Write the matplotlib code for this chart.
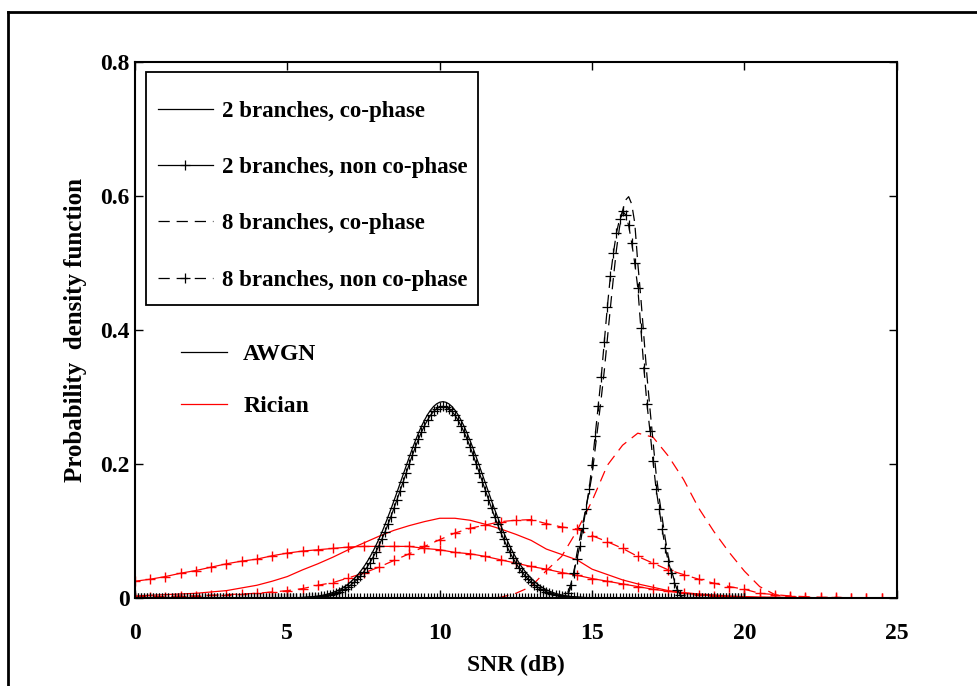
import numpy as np
import matplotlib.pyplot as plt
from matplotlib.lines import Line2D
from matplotlib.patches import Rectangle

plt.rcParams['font.family'] = ['Liberation Serif', 'DejaVu Serif']
plt.rcParams['font.weight'] = 'bold'

# AWGN curves, 0.1 dB grid from 0 to 20 dB
snr_fine = np.round(np.arange(0, 20.01, 0.1), 1)

# 2 branches, co-phase (peak ~0.293 at 10.1 dB)
awgn_2_co = [0.0] * 50 + [
    0.0002, 0.0003, 0.0004, 0.0005, 0.0006, 0.0008, 0.0011, 0.0014, 0.0018, 0.0023,
    0.0029, 0.0036, 0.0045, 0.0056, 0.0069, 0.0084, 0.0102, 0.0123, 0.0148, 0.0177,
    0.0210, 0.0248, 0.0292, 0.0341, 0.0397, 0.0459, 0.0527, 0.0603, 0.0686, 0.0777,
    0.0874, 0.0978, 0.1088, 0.1205, 0.1326, 0.1452, 0.1580, 0.1711, 0.1843, 0.1974,
    0.2102, 0.2227, 0.2346, 0.2458, 0.2562, 0.2654, 0.2736, 0.2804, 0.2859, 0.2898,
    0.2922, 0.2930, 0.2922,
    0.2898, 0.2859, 0.2804, 0.2736, 0.2654, 0.2562, 0.2458, 0.2346, 0.2227, 0.2102,
    0.1974, 0.1843, 0.1711, 0.1580, 0.1452, 0.1326, 0.1205, 0.1088, 0.0978, 0.0874,
    0.0777, 0.0686, 0.0603, 0.0527, 0.0459, 0.0397, 0.0341, 0.0292, 0.0248, 0.0210,
    0.0177, 0.0148, 0.0123, 0.0102, 0.0084, 0.0069, 0.0056, 0.0045, 0.0036, 0.0029,
    0.0023, 0.0018, 0.0014, 0.0011, 0.0008, 0.0006, 0.0005, 0.0004,
] + [0.0] * 50

# 2 branches, non co-phase
awgn_2_nonco = [0.0] * 51 + [
    0.0001, 0.0002, 0.0003, 0.0004, 0.0005, 0.0007, 0.0009, 0.0012, 0.0015, 0.0019,
    0.0025, 0.0032, 0.0040, 0.0050, 0.0062, 0.0076, 0.0094, 0.0114, 0.0138, 0.0167,
    0.0200, 0.0238, 0.0281, 0.0331, 0.0387, 0.0450, 0.0520, 0.0598, 0.0683, 0.0776,
    0.0876, 0.0983, 0.1097, 0.1216, 0.1341, 0.1470, 0.1602, 0.1735, 0.1868, 0.1999,
    0.2128, 0.2251, 0.2367, 0.2474, 0.2571, 0.2656, 0.2728, 0.2785, 0.2826, 0.2852,
    0.2860,
    0.2852, 0.2826, 0.2785, 0.2728, 0.2656, 0.2571, 0.2474, 0.2367, 0.2251, 0.2128,
    0.1999, 0.1868, 0.1735, 0.1602, 0.1470, 0.1341, 0.1216, 0.1097, 0.0983, 0.0876,
    0.0776, 0.0683, 0.0598, 0.0520, 0.0450, 0.0387, 0.0331, 0.0281, 0.0238, 0.0200,
    0.0167, 0.0138, 0.0114, 0.0094, 0.0076, 0.0062, 0.0050, 0.0040, 0.0032, 0.0025,
    0.0019, 0.0015, 0.0012, 0.0009, 0.0007, 0.0005, 0.0004, 0.0003, 0.0002, 0.0001,
] + [0.0] * 49

# 8 branches, co-phase (14.0 .. 18.0 dB)
awgn_8_co = [0.0] * 140 + [
    0.000, 0.001, 0.004, 0.016, 0.038, 0.066, 0.089, 0.112, 0.135, 0.158,
    0.184, 0.222, 0.260, 0.298, 0.339, 0.386, 0.433, 0.478, 0.520, 0.553,
    0.578, 0.594, 0.599, 0.588, 0.560, 0.500, 0.448, 0.390, 0.332, 0.282,
    0.234, 0.186, 0.150, 0.120, 0.089, 0.062, 0.042, 0.026, 0.013, 0.004,
    0.000,
] + [0.0] * 20

# 8 branches, non co-phase (14.0 .. 18.0 dB)
awgn_8_nonco = [0.0] * 140 + [
    0.000, 0.002, 0.008, 0.020, 0.038, 0.058, 0.078, 0.105, 0.133, 0.162,
    0.198, 0.242, 0.286, 0.330, 0.382, 0.434, 0.480, 0.515, 0.545, 0.565,
    0.577, 0.572, 0.556, 0.530, 0.500, 0.463, 0.403, 0.343, 0.290, 0.249,
    0.204, 0.163, 0.133, 0.103, 0.075, 0.055, 0.038, 0.023, 0.012, 0.004,
    0.000,
] + [0.0] * 20

# Rician curves, 0.5 dB grid from 0 to 25 dB
snr_coarse = np.arange(0, 25.01, 0.5)

rician_2_co = [
    0.003, 0.004, 0.005, 0.006, 0.007, 0.009, 0.011, 0.015, 0.019, 0.025,
    0.032, 0.042, 0.051, 0.061, 0.072, 0.082, 0.092, 0.101, 0.108, 0.114,
    0.119, 0.119, 0.116, 0.110, 0.103, 0.095, 0.086, 0.073, 0.065, 0.057,
    0.043, 0.035, 0.027, 0.021, 0.016, 0.011, 0.008, 0.006, 0.0045, 0.003,
    0.002, 0.001, 0.001, 0.0, 0.0, 0.0, 0.0, 0.0, 0.0, 0.0, 0.0,
]
rician_2_nonco = [
    0.025, 0.028, 0.032, 0.037, 0.041, 0.046, 0.051, 0.055, 0.058, 0.063,
    0.067, 0.070, 0.072, 0.074, 0.076, 0.077, 0.077, 0.077, 0.077, 0.074,
    0.072, 0.068, 0.066, 0.062, 0.057, 0.052, 0.047, 0.043, 0.038, 0.034,
    0.029, 0.025, 0.021, 0.017, 0.013, 0.010, 0.007, 0.005, 0.003, 0.002,
    0.002, 0.001, 0.001, 0.001, 0.0, 0.0, 0.0, 0.0, 0.0, 0.0, 0.0,
]
rician_8_co = [0.0] * 24 + [
    0.001, 0.007, 0.017, 0.041, 0.062, 0.100, 0.145, 0.198, 0.228, 0.246,
    0.240, 0.212, 0.177, 0.134, 0.099, 0.068, 0.040, 0.017, 0.005, 0.002,
    0.001,
] + [0.0] * 6
rician_8_nonco = [
    0.002, 0.002, 0.002, 0.003, 0.003, 0.004, 0.005, 0.006, 0.007, 0.009,
    0.011, 0.014, 0.019, 0.023, 0.030, 0.037, 0.046, 0.056, 0.066, 0.077,
    0.087, 0.097, 0.104, 0.109, 0.114, 0.116, 0.117, 0.111, 0.106, 0.103,
    0.093, 0.084, 0.074, 0.062, 0.052, 0.042, 0.035, 0.028, 0.022, 0.017,
    0.013, 0.007, 0.005, 0.003, 0.002, 0.001, 0.001, 0.0, 0.0, 0.0, 0.0,
]

legend_labels = ['2 branches, co-phase', '2 branches, non co-phase',
                 '8 branches, co-phase', '8 branches, non co-phase']

fig = plt.figure(figsize=(9.78, 6.86), dpi=100)
ax = fig.add_axes([0.138, 0.1283, 0.779, 0.7813])

lw = 0.9
dash = (0, (9, 5.5))
ms = 7

# Rician (red)
ax.plot(snr_coarse, rician_2_co, color='red', lw=lw)
ax.plot(snr_coarse, rician_2_nonco, color='red', lw=lw, marker='+', ms=ms, mew=1)
ax.plot(snr_coarse, rician_8_co, color='red', lw=lw, linestyle=dash)
ax.plot(snr_coarse, rician_8_nonco, color='red', lw=lw, linestyle=dash, marker='+', ms=ms, mew=1)

# AWGN (black)
ax.plot(snr_fine, awgn_2_co, color='black', lw=lw)
ax.plot(snr_fine, awgn_2_nonco, color='black', lw=lw, marker='+', ms=ms, mew=0.9)
ax.plot(snr_fine, awgn_8_co, color='black', lw=lw, linestyle=dash)
ax.plot(snr_fine, awgn_8_nonco, color='black', lw=lw, linestyle=dash, marker='+', ms=ms, mew=0.9)

ax.set_xlim(0, 25)
ax.set_ylim(0, 0.8)
ax.set_xticks([0, 5, 10, 15, 20, 25])
ax.set_yticks([0, 0.2, 0.4, 0.6, 0.8])
ax.set_yticklabels(['0', '0.2', '0.4', '0.6', '0.8'])
ax.tick_params(direction='in', top=True, right=True, length=6, width=1, labelsize=17)
ax.tick_params(axis='x', pad=18)
ax.tick_params(axis='y', pad=4)
for lab in ax.get_xticklabels() + ax.get_yticklabels():
    lab.set_fontweight('bold')
for sp in ax.spines.values():
    sp.set_linewidth(1.5)

ax.set_xlabel('SNR (dB)', fontsize=17, fontweight='bold', labelpad=8)
ax.set_ylabel('Probability  density function', fontsize=18, fontweight='bold', labelpad=9)

# legend 1: branch configurations (box drawn separately, taller padding on top)
ax.add_patch(Rectangle((0.0144, 0.5466), 0.4357, 0.4344, transform=ax.transAxes,
                       facecolor='white', edgecolor='black', lw=1.3, zorder=4))
h1 = [Line2D([], [], color='black', lw=lw),
      Line2D([], [], color='black', lw=lw, marker='+', ms=ms, mew=0.9),
      Line2D([], [], color='black', lw=lw, linestyle=dash),
      Line2D([], [], color='black', lw=lw, linestyle=dash, marker='+', ms=ms, mew=0.9)]
leg1 = ax.legend(h1, legend_labels, loc='upper left', bbox_to_anchor=(0.0302, 0.928),
                 borderaxespad=0, borderpad=0, frameon=False,
                 prop={'family': 'Liberation Serif', 'weight': 'bold', 'size': 16.5},
                 handlelength=2.4, handletextpad=0.4, labelspacing=1.54, numpoints=1)
ax.add_artist(leg1)

# legend 2: channel type
h2 = [Line2D([], [], color='black', lw=lw), Line2D([], [], color='red', lw=lw)]
ax.legend(h2, ['AWGN', 'Rician'], loc='upper left', bbox_to_anchor=(0.060, 0.474),
          borderaxespad=0, borderpad=0, frameon=False,
          prop={'family': 'Liberation Serif', 'weight': 'bold', 'size': 17},
          handlelength=1.95, handletextpad=0.7, labelspacing=1.28)

# outer frame (partially cut off in the original)
fig.add_artist(Line2D([0.0082, 1.0], [0.9825, 0.9825], color='black', lw=2,
                      transform=fig.transFigure))
fig.add_artist(Line2D([0.0082, 0.0082], [0.0, 0.9825], color='black', lw=2,
                      transform=fig.transFigure))

fig.savefig('out.png', dpi=100)
